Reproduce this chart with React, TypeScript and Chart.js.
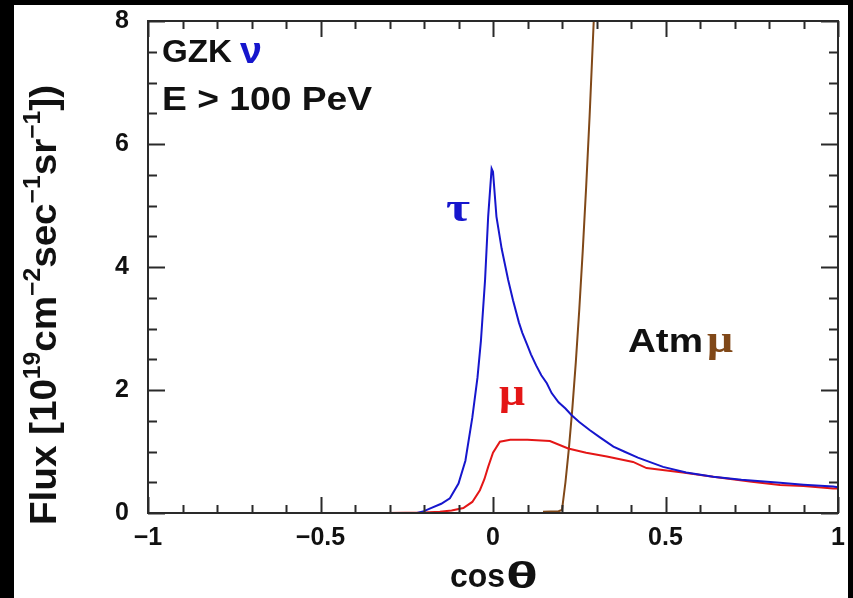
import { useEffect, useRef } from "react";
import { Chart, registerables } from "chart.js";

Chart.register(...registerables);

// GZK neutrino-induced tau flux vs cos(theta)
const tauCos = [-0.22, -0.2, -0.18, -0.15, -0.125, -0.1, -0.08, -0.06, -0.045, -0.035, -0.023, -0.014, -0.004, 0.0, 0.01, 0.025, 0.044, 0.058, 0.075, 0.085, 0.1, 0.11, 0.125, 0.14, 0.156, 0.17, 0.19, 0.21, 0.228, 0.25, 0.28, 0.31, 0.349, 0.38, 0.42, 0.493, 0.56, 0.638, 0.72, 0.832, 0.9, 0.986, 1.0];
const tauFlux = [0.0, 0.03, 0.08, 0.15, 0.24, 0.48, 0.85, 1.55, 2.2, 2.8, 3.79, 4.82, 5.6, 5.55, 4.82, 4.3, 3.79, 3.46, 3.1, 2.93, 2.72, 2.58, 2.4, 2.24, 2.11, 1.95, 1.8, 1.7, 1.59, 1.48, 1.35, 1.23, 1.08, 1.0, 0.9, 0.75, 0.66, 0.59, 0.54, 0.49, 0.46, 0.43, 0.42];

// GZK neutrino-induced muon flux
const muCos = [-0.31, -0.2, -0.154, -0.12, -0.086, -0.06, -0.038, -0.025, -0.014, 0.0, 0.02, 0.05, 0.1, 0.165, 0.218, 0.27, 0.33, 0.406, 0.445, 0.55, 0.638, 0.75, 0.832, 0.9, 0.986, 1.0];
const muFlux = [0.0, 0.01, 0.02, 0.04, 0.08, 0.18, 0.37, 0.55, 0.75, 0.98, 1.16, 1.19, 1.19, 1.17, 1.05, 0.98, 0.92, 0.83, 0.73, 0.66, 0.59, 0.51, 0.455, 0.44, 0.4, 0.4];

// Atmospheric muon background
const atmCos = [0.145, 0.19, 0.2, 0.21, 0.22, 0.23, 0.24, 0.25, 0.26, 0.27, 0.28, 0.292];
const atmFlux = [0.02, 0.03, 0.05, 0.5, 1.05, 1.7, 2.45, 3.3, 4.25, 5.3, 6.45, 8.0];

const xTickValues = [-1, -0.5, 0, 0.5, 1];
const xTickLabels = ["\u22121", "\u22120.5", "0", "0.5", "1"];
const yTickValues = [0, 2, 4, 6, 8];
const yTickLabels = ["0", "2", "4", "6", "8"];

const BLUE = "rgb(22,22,205)";
const RED = "rgb(228,22,22)";
const BROWN = "rgb(128,72,24)";
const INK = "#111";
const SANS = "'Liberation Sans', Arial, sans-serif";
const SERIF = "'Liberation Serif', 'Times New Roman', serif";

const yTitleParts: { t: string; sup: boolean }[] = [
  { t: "Flux [10", sup: false },
  { t: "19", sup: true },
  { t: "cm", sup: false },
  { t: "\u22122", sup: true },
  { t: "sec", sup: false },
  { t: "\u22121", sup: true },
  { t: "sr", sup: false },
  { t: "\u22121", sup: true },
  { t: "])", sup: false },
];

// Draw a string stretched horizontally so it spans `width` pixels.
function drawFit(
  ctx: CanvasRenderingContext2D,
  text: string,
  font: string,
  color: string,
  x: number,
  y: number,
  width?: number
) {
  ctx.font = font;
  ctx.fillStyle = color;
  const w = ctx.measureText(text).width;
  const k = width ? width / w : 1;
  ctx.save();
  ctx.translate(x, y);
  ctx.scale(k, 1);
  ctx.fillText(text, 0, 0);
  ctx.restore();
  return w * k;
}

const decorPlugin = {
  id: "decor",
  beforeDraw(chart: any) {
    const { ctx, width, height } = chart;
    ctx.save();
    ctx.fillStyle = "#000";
    ctx.fillRect(0, 0, width, height);
    ctx.fillStyle = "#fff";
    ctx.fillRect(14, 5, 834, height - 5);
    ctx.restore();
  },
  afterDraw(chart: any) {
    const { ctx, chartArea } = chart;
    const xs = chart.scales.x;
    const ys = chart.scales.y;
    const { left, right, top, bottom } = chartArea;
    ctx.save();

    // frame
    ctx.strokeStyle = "#2a2a2a";
    ctx.lineWidth = 2;
    ctx.strokeRect(left, top, right - left, bottom - top);

    // inward ticks on all four sides
    ctx.beginPath();
    for (let i = -10; i <= 10; i++) {
      const v = i / 10;
      const px = Math.round(xs.getPixelForValue(v)) + 0.5;
      const len = i % 5 === 0 ? 16 : 8;
      ctx.moveTo(px, bottom);
      ctx.lineTo(px, bottom - len);
      ctx.moveTo(px, top);
      ctx.lineTo(px, top + len);
    }
    for (let i = 0; i <= 16; i++) {
      const v = i / 2;
      const py = Math.round(ys.getPixelForValue(v)) + 0.5;
      const len = i % 4 === 0 ? 17 : 9;
      ctx.moveTo(left, py);
      ctx.lineTo(left + len, py);
      ctx.moveTo(right, py);
      ctx.lineTo(right - len, py);
    }
    ctx.stroke();

    // annotations
    ctx.textBaseline = "alphabetic";
    ctx.textAlign = "left";
    drawFit(ctx, "GZK", `bold 32px ${SANS}`, INK, 162, 62, 70);
    drawFit(ctx, "\u03bd", `bold 36px ${SANS}`, BLUE, 240, 63, 22);
    drawFit(ctx, "E > 100 PeV", `bold 33px ${SANS}`, INK, 162, 110, 210);

    drawFit(ctx, "\u03c4", `bold 40px ${SERIF}`, BLUE, 446, 221, 24);
    drawFit(ctx, "\u03bc", `bold 38px ${SERIF}`, RED, 499, 405, 26);

    drawFit(ctx, "Atm", `bold 33px ${SANS}`, INK, 628, 352, 75);
    drawFit(ctx, "\u03bc", `bold 38px ${SERIF}`, BROWN, 707, 352, 26);

    // x title
    drawFit(ctx, "cos", `bold 34px ${SANS}`, INK, 450, 587, 55);
    drawFit(ctx, "\u03b8", `bold 36px ${SANS}`, INK, 506, 588, 32);

    // y title (rotated, with superscripts), stretched to its full length
    ctx.save();
    ctx.translate(56, 305);
    ctx.rotate(-Math.PI / 2);
    const mainFont = `bold 36px ${SANS}`;
    const supFont = `bold 23px ${SANS}`;
    let total = 0;
    for (const p of yTitleParts) {
      ctx.font = p.sup ? supFont : mainFont;
      total += ctx.measureText(p.t).width;
    }
    const k = 440 / total;
    ctx.scale(k, 1);
    let cx = -total / 2;
    ctx.fillStyle = INK;
    for (const p of yTitleParts) {
      ctx.font = p.sup ? supFont : mainFont;
      ctx.fillText(p.t, cx, p.sup ? -16 : 0);
      cx += ctx.measureText(p.t).width;
    }
    ctx.restore();

    ctx.restore();
  },
};

export default function App() {
  const ref = useRef<HTMLCanvasElement>(null);

  useEffect(() => {
    const canvas = ref.current;
    if (!canvas) return;
    const toPts = (xv: number[], yv: number[]) => xv.map((x, i) => ({ x, y: yv[i] }));
    const lineStyle = { pointRadius: 0, borderWidth: 2, fill: false, tension: 0 };

    const chart = new Chart(canvas, {
      type: "line",
      data: {
        datasets: [
          { label: "tau", data: toPts(tauCos, tauFlux), borderColor: BLUE, ...lineStyle },
          { label: "mu", data: toPts(muCos, muFlux), borderColor: RED, ...lineStyle },
          { label: "atm mu", data: toPts(atmCos, atmFlux), borderColor: BROWN, ...lineStyle },
        ],
      },
      options: {
        animation: false,
        responsive: false,
        devicePixelRatio: 1,
        layout: { padding: { left: 0, top: 21, right: 15, bottom: 0 } },
        plugins: { legend: { display: false }, tooltip: { enabled: false } },
        scales: {
          x: {
            type: "linear",
            min: -1,
            max: 1,
            grid: { display: false, drawTicks: false },
            border: { display: false },
            afterFit: (s: any) => {
              s.height = 85;
              s.paddingLeft = 0;
              s.paddingRight = 0;
            },
            afterBuildTicks: (s: any) => { s.ticks = xTickValues.map((v) => ({ value: v })); },
            ticks: {
              autoSkip: false,
              maxRotation: 0,
              padding: 10,
              color: INK,
              font: { family: SANS, weight: "bold", size: 25 },
              callback: (_v: any, i: number) => xTickLabels[i],
            },
          },
          y: {
            type: "linear",
            min: 0,
            max: 8,
            grid: { display: false, drawTicks: false },
            border: { display: false },
            afterFit: (s: any) => {
              s.width = 148;
              s.paddingTop = 0;
              s.paddingBottom = 0;
            },
            afterBuildTicks: (s: any) => { s.ticks = yTickValues.map((v) => ({ value: v })); },
            ticks: {
              autoSkip: false,
              padding: 19,
              color: INK,
              font: { family: SANS, weight: "bold", size: 25 },
              callback: (_v: any, i: number) => yTickLabels[i],
            },
          },
        },
      },
      plugins: [decorPlugin],
    } as any);

    return () => chart.destroy();
  }, []);

  return (
    <div style={{ position: "fixed", left: 0, top: 0, width: 853, height: 598, background: "#000" }}>
      <canvas ref={ref} width={853} height={598} style={{ display: "block", width: 853, height: 598 }} />
    </div>
  );
}
